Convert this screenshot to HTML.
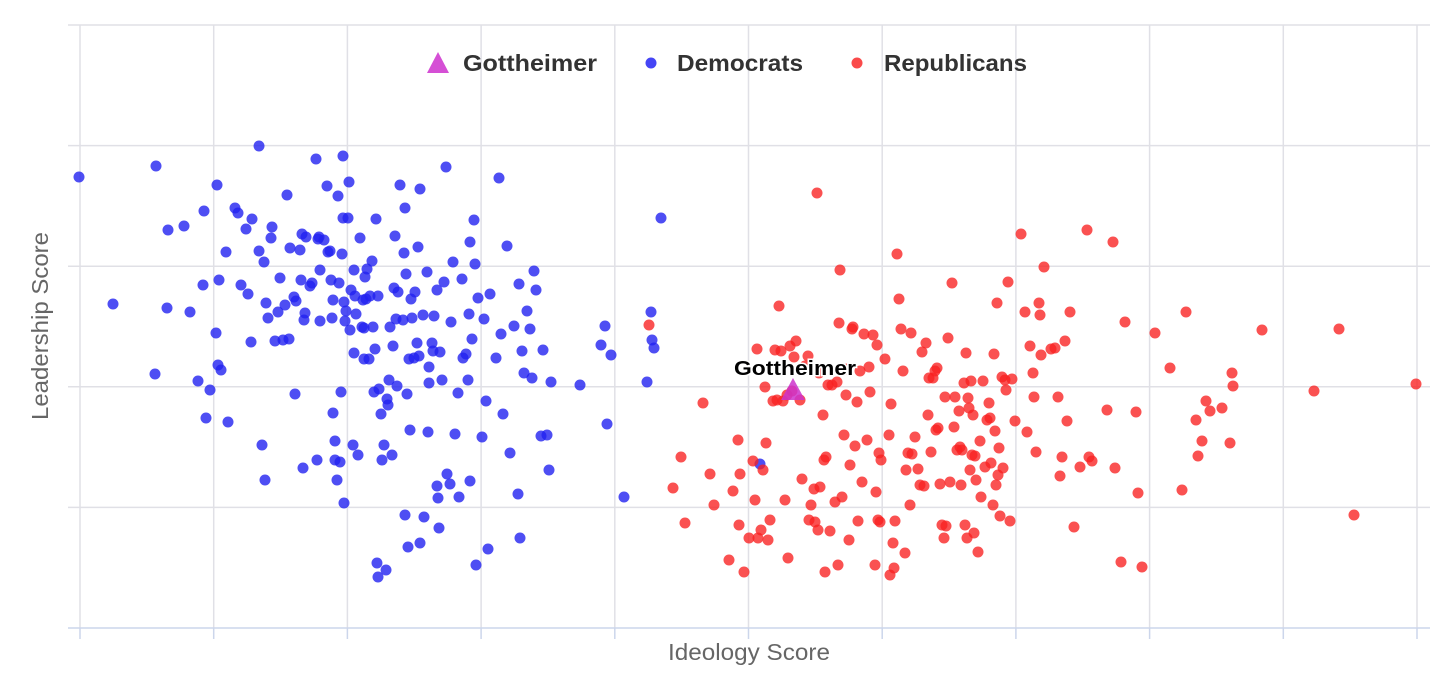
<!DOCTYPE html>
<html><head><meta charset="utf-8"><style>
html,body{margin:0;padding:0;background:#fff;}
svg{display:block;font-family:"Liberation Sans",sans-serif;}
</style></head><body>
<svg id="chart" width="1456" height="684">
<g id="grid"></g>
<g id="marks"></g>
<g>
<polygon points="438,52 427,73 449,73" fill="#d54fd5"/>
<text x="463" y="71" font-size="23" font-weight="bold" fill="#333" textLength="134" lengthAdjust="spacingAndGlyphs">Gottheimer</text>
<circle cx="651" cy="63" r="5.5" fill="#4545f5"/>
<text x="677" y="71" font-size="23" font-weight="bold" fill="#333" textLength="126" lengthAdjust="spacingAndGlyphs">Democrats</text>
<circle cx="857" cy="63" r="5.5" fill="#fa4a4a"/>
<text x="884" y="71" font-size="23" font-weight="bold" fill="#333" textLength="143" lengthAdjust="spacingAndGlyphs">Republicans</text>
</g>
<text x="668" y="660" font-size="23" fill="#666" textLength="162" lengthAdjust="spacingAndGlyphs">Ideology Score</text>
<text transform="translate(48,420) rotate(-90)" font-size="23" fill="#666" textLength="188" lengthAdjust="spacingAndGlyphs">Leadership Score</text>
</svg>
<script>
const xTicks = [0,133.7,267.4,401.1,534.8,668.5,802.2,935.9,1069.6,1203.3,1337];
const yTicks = [0,120.6,241.2,361.8,482.4,603];
const demPoints = [[-1,451],[33,324],[76,462],[88,398],[104,402],[75,254],[87,320],[110,316],[118,247],[124,417],[123,343],[126,210],[130,238],[136,295],[137,443],[138,263],[141,258],[139,348],[146,376],[148,206],[155,420],[158,415],[161,343],[166,399],[168,334],[171,286],[172,409],[179,482],[179,377],[182,183],[185,148],[184,366],[186,325],[188,310],[191,390],[192,401],[195,287],[198,316],[200,350],[203,288],[205,323],[207,433],[209,289],[210,380],[214,331],[215,234],[216,327],[220,378],[221,348],[222,394],[223,160],[224,308],[225,315],[226,391],[230,342],[232,345],[236,469],[237,168],[238,389],[239,391],[240,358],[240,307],[244,388],[247,442],[248,376],[250,377],[251,348],[252,310],[253,215],[253,328],[255,187],[255,168],[257,148],[258,432],[259,345],[260,166],[261,236],[262,374],[263,472],[263,410],[264,125],[264,326],[265,307],[266,317],[268,410],[269,446],[270,298],[271,338],[273,183],[274,275],[274,358],[275,332],[276,314],[278,173],[280,390],[282,301],[283,328],[284,300],[284,269],[285,351],[286,329],[287,359],[289,269],[290,332],[292,367],[293,301],[294,236],[295,279],[296,409],[297,65],[298,332],[298,51],[299,239],[301,214],[302,168],[304,183],[306,58],[307,229],[308,223],[309,248],[310,301],[312,173],[313,282],[314,340],[315,392],[316,309],[317,242],[318,336],[320,443],[323,308],[324,375],[325,420],[325,113],[326,354],[327,234],[328,81],[329,269],[330,198],[331,329],[332,310],[334,270],[335,336],[337,285],[338,381],[339,272],[340,439],[340,85],[343,313],[344,111],[347,356],[348,196],[349,245],[349,261],[352,285],[353,277],[354,312],[357,338],[357,142],[358,130],[359,100],[360,276],[362,248],[364,346],[366,461],[367,154],[370,144],[371,306],[373,366],[375,194],[378,235],[379,131],[382,349],[383,270],[386,274],[388,248],[389,314],[390,147],[390,386],[392,289],[394,408],[395,364],[396,63],[398,330],[402,191],[404,309],[406,227],[408,79],[410,334],[416,270],[419,450],[421,294],[423,214],[427,382],[430,175],[434,302],[438,134],[439,344],[440,90],[442,277],[444,255],[447,317],[450,299],[452,250],[454,357],[456,338],[461,192],[463,278],[467,193],[469,158],[471,246],[500,243],[521,283],[525,302],[527,204],[531,273],[544,131],[567,246],[571,316],[572,288],[574,280],[581,410],[680,164]];
const repPoints = [[569,303],[593,140],[601,171],[605,105],[623,225],[630,154],[634,123],[649,68],[653,137],[658,188],[659,103],[660,154],[664,56],[669,90],[673,167],[675,128],[677,279],[678,90],[681,98],[683,158],[685,241],[686,185],[688,88],[690,108],[693,227],[695,278],[697,228],[699,322],[701,277],[703,227],[705,128],[707,233],[708,70],[710,282],[712,237],[714,271],[716,287],[720,228],[722,149],[725,262],[728,272],[729,108],[731,123],[734,139],[735,106],[737,435],[738,98],[739,255],[740,141],[743,213],[744,168],[745,56],[746,171],[748,243],[750,97],[752,243],[755,126],[757,246],[758,63],[759,305],[760,358],[762,131],[764,193],[766,233],[767,259],[769,88],[770,163],[772,299],[773,301],[775,182],[777,226],[778,107],[780,257],[782,146],[784,294],[787,188],[789,261],[790,236],[793,293],[795,63],[796,136],[797,283],[798,108],[799,175],[800,106],[801,168],[805,269],[809,193],[810,53],[811,224],[813,85],[814,60],[815,107],[817,374],[819,329],[821,299],[823,257],[825,75],[826,158],[828,175],[830,123],[831,295],[832,174],[835,191],[838,159],[840,143],[842,276],[844,142],[846,285],[848,213],[849,250],[851,176],[853,250],[855,257],[856,198],[857,260],[858,200],[860,144],[862,103],[864,90],[865,231],[866,102],[868,290],[870,146],[872,345],[874,201],[875,231],[877,178],[879,217],[880,181],[881,143],[882,178],[884,245],[885,103],[886,275],[887,90],[888,230],[889,220],[890,158],[891,247],[892,173],[893,213],[894,95],[895,172],[896,148],[898,76],[900,187],[901,131],[903,247],[905,161],[907,208],[909,225],[910,210],[911,165],[913,123],[914,274],[915,197],[916,143],[917,325],[918,153],[919,180],[920,112],[922,251],[923,160],[925,248],[926,238],[928,346],[930,107],[932,249],[935,207],[941,394],[945,316],[947,196],[950,282],[953,255],[954,231],[956,176],[959,325],[960,313],[961,273],[964,361],[971,279],[975,280],[978,231],[980,152],[982,171],[985,287],[987,207],[990,316],[994,101],[1000,161],[1007,398],[1009,171],[1012,167],[1027,218],[1033,386],[1035,160],[1041,66],[1045,306],[1056,216],[1058,135],[1062,61],[1075,295],[1090,260],[1102,138],[1106,316],[1116,208],[1118,172],[1122,187],[1126,227],[1130,217],[1142,220],[1150,185],[1152,255],[1153,242],[1182,298],[1234,237],[1259,299],[1274,113],[1336,244]];
const gottheimerPoint = [713,238];

const NS = "http://www.w3.org/2000/svg";
const X0 = 80, X1 = 1417, Y0 = 628, Y1 = 25;
function xScale(v){ return X0 + v / 1337 * (X1 - X0); }
function yScale(v){ return Y0 - v / 603 * (Y0 - Y1); }
function mk(tag, attrs, parent){
  const el = document.createElementNS(NS, tag);
  for (const k in attrs) el.setAttribute(k, attrs[k]);
  parent.appendChild(el);
  return el;
}
const grid = document.getElementById('grid');
const marks = document.getElementById('marks');
xTicks.forEach(t => {
  const x = xScale(t);
  const l = mk('line', {x1:x, x2:x, y1:Y1, y2:Y0, stroke:'#e0e0e6', 'stroke-width':1.5}, grid);
  
  
  const tk = mk('line', {x1:x, x2:x, y1:Y0, y2:Y0+11, stroke:'#ccd6eb', 'stroke-width':1.5}, grid);
  
  
});
yTicks.forEach(t => {
  const y = yScale(t);
  const l = mk('line', {x1:68, x2:1430, y1:y, y2:y, stroke: t === 0 ? '#ccd6eb' : '#e0e0e6', 'stroke-width':1.5}, grid);
  
  
});
demPoints.forEach(p => {
  const c = mk('circle', {cx:xScale(p[0]), cy:yScale(p[1]), r:5.5, fill:'#2222f0', 'fill-opacity':0.8}, marks);
  
  
});
repPoints.forEach(p => {
  const c = mk('circle', {cx:xScale(p[0]), cy:yScale(p[1]), r:5.5, fill:'#f82020', 'fill-opacity':0.78}, marks);
  
  
});
const gx = xScale(gottheimerPoint[0]), gy = yScale(gottheimerPoint[1]);
const tri = mk('polygon', {points:`${gx},${gy-12} ${gx-12},${gy+10} ${gx+12},${gy+10}`, fill:'#cc33cc', 'fill-opacity':0.85}, marks);


const lbl = mk('text', {x:gx-59, y:gy-15, 'font-size':20, 'font-weight':'bold', fill:'#000', stroke:'#fff', 'stroke-width':3, 'paint-order':'stroke', textLength:122, lengthAdjust:'spacingAndGlyphs'}, marks);
lbl.textContent = 'Gottheimer';


</script>
</body></html>
